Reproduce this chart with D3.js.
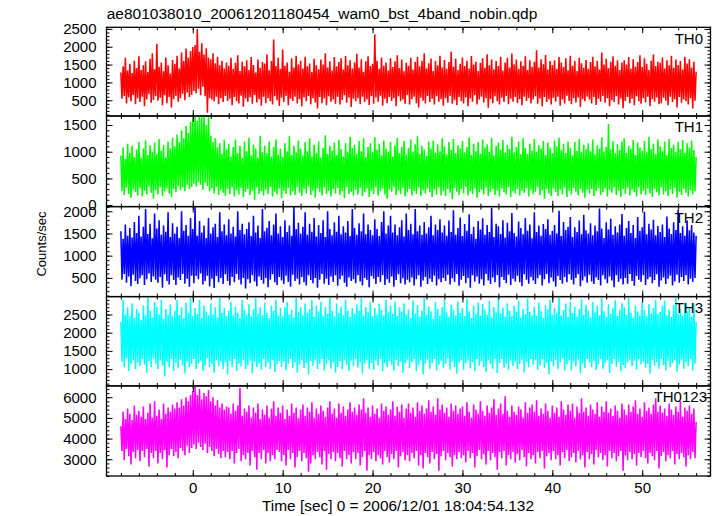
<!DOCTYPE html>
<html><head><meta charset="utf-8">
<script src="https://cdn.jsdelivr.net/npm/d3@7"></script>
<style>body{margin:0;background:#fff} text{font-family:"Liberation Sans",Arial,Helvetica,sans-serif;fill:#000}</style>
</head><body><svg id="c" width="717" height="516"></svg>
<script>
// time bins: start and bin width (sec)
const t0 = -8, dt = 0.125;
const th0 = [
1280,540,1450,620,1690,410,1330,580,1520,470,1260,650,1610,390,1400,560,
1730,450,1350,600,1480,330,1590,520,1290,680,1660,430,1820,510,1370,610,
2080,490,1440,570,1560,360,1310,640,1700,420,1480,590,1250,300,1630,530,
1520,620,1750,460,1390,560,1840,680,1600,500,1950,720,1700,590,1880,650,
1990,760,2050,700,2500,820,1860,640,2100,880,1780,610,1960,150,1700,560,
1650,520,1820,470,1540,600,1720,390,1480,560,1610,450,1390,620,1560,480,
1470,540,1690,360,1380,590,1550,470,1760,410,1320,630,1580,320,1450,550,
1620,460,1350,580,1710,400,1490,650,1280,440,1640,530,1410,350,1570,600,
1530,420,1780,560,1340,470,1600,380,2200,610,1460,500,1690,340,1380,570,
1920,450,1470,620,1560,360,1300,540,1680,480,1420,600,1750,410,1500,530,
1610,330,1390,580,1720,470,1450,620,1530,390,1290,560,1660,440,1480,270,
1370,590,1640,420,1500,550,1820,360,1420,610,1590,460,1330,520,1710,400,
1450,600,1570,380,1680,510,1360,640,1740,430,1480,570,1620,310,1390,540,
1560,470,1800,560,1420,390,1650,600,1300,450,1590,520,1730,370,1460,620,
1520,400,2350,580,1610,460,1380,630,1700,350,1470,540,1560,420,1340,590,
1680,480,1430,560,1590,330,1760,610,1400,470,1640,520,1310,400,1550,650,
1470,380,1690,530,1360,600,1580,420,1720,300,1450,570,1610,490,1820,410,
1390,620,1540,450,1670,540,1320,380,1600,610,1480,460,1750,530,1420,350,
1630,560,1380,430,1570,620,1860,400,1440,500,1660,360,1350,590,1520,470,
1700,410,1460,580,1610,330,1390,550,1740,460,1500,640,1580,380,1320,520,
1550,600,1680,440,1410,560,1790,290,1480,530,1640,420,1370,610,1600,470,
1460,380,1720,570,1330,450,1560,620,1690,390,1420,540,1810,460,1510,590,
1640,420,1380,530,1590,360,1470,600,1730,480,1350,560,1620,410,1440,520,
1580,610,1900,400,1420,550,1650,330,1510,590,1770,450,1360,520,1600,380,
1490,570,1620,460,1380,600,1710,350,1560,520,1430,410,1680,630,1340,480,
1750,390,1470,560,1600,440,1320,580,1690,310,1540,530,1410,470,1630,600,
1380,520,1570,410,1720,590,1450,370,1610,540,1360,460,1840,620,1500,430,
1660,560,1400,330,1580,500,1730,450,1470,610,1620,380,1350,550,1560,280,
1620,480,1500,590,1710,420,1380,540,1650,360,1440,610,1570,470,1760,400,
1430,560,1680,440,1520,600,1350,330,1610,530,1790,460,1460,580,1580,390,
1550,420,1700,570,1390,490,1620,360,1480,600,1750,450,1410,530,1640,300,
1490,590,1600,430,1360,520,1720,470,1530,380,1650,560,1420,270,1580,490,1300];
const th1 = [
930,260,1080,190,870,330,1150,210,980,140,1110,290,900,240,1040,180,
1180,310,890,160,1060,270,1210,200,940,350,1120,230,1000,120,1170,280,
960,200,1240,330,1020,170,1130,260,890,310,1190,220,1070,150,1260,300,
1100,240,1320,350,1180,280,1400,330,1250,260,1480,380,1350,300,1560,340,
1620,400,1700,350,1580,430,1680,380,1640,290,1720,420,1500,360,1660,260,
1300,310,1180,220,1250,340,1080,190,1160,280,960,230,1220,170,1040,300,
1150,210,910,330,1090,160,1230,280,970,200,1110,320,880,150,1190,250,
1010,300,1260,190,930,270,1130,100,1060,330,890,210,1300,260,990,180,
1110,290,970,210,1190,340,910,160,1090,250,1230,200,950,310,1060,130,
900,270,1160,210,1010,320,1290,180,940,260,1110,190,990,340,1210,230,
1060,170,930,300,1180,220,1010,350,1250,190,910,270,1130,140,980,310,
1190,240,890,180,1070,330,1310,210,960,270,1110,160,1020,300,1170,220,
940,320,1220,190,1050,260,910,130,1160,340,990,210,1280,250,1070,180,
1130,290,960,200,1200,320,1010,170,1250,240,900,310,1090,150,1160,270,
990,210,1270,330,1040,180,1150,260,930,310,1210,200,1060,120,1000,290,
1180,250,910,340,1120,190,1260,270,970,210,1090,320,1200,160,950,240,
1070,300,1230,180,1000,260,1140,210,1290,330,960,170,1110,280,1040,220,
920,310,1190,240,1060,150,1210,290,980,200,1140,330,1010,180,1250,260,
1100,170,950,300,1180,230,1030,110,1240,320,970,250,1120,190,1060,300,
1200,220,990,340,1090,180,1270,260,940,210,1150,310,1010,140,1180,240,
960,290,1230,200,1080,330,1140,170,1000,250,1260,300,930,190,1110,270,
1170,160,1040,310,1220,240,980,200,1130,340,1050,150,1280,260,990,220,
1090,300,1190,180,950,270,1250,230,1070,320,960,160,1150,290,1020,210,
1240,250,1000,330,1120,190,1060,280,1200,120,940,300,1170,220,1080,170,
970,310,1210,240,1100,170,1260,290,1030,200,1150,330,980,150,1190,270,
1070,200,930,320,1180,250,1020,180,1240,300,990,230,1130,140,1050,290,
1160,220,1010,300,1230,170,950,260,1120,320,1060,190,1270,240,1000,310,
1090,160,1520,280,1040,230,1200,330,970,190,1140,270,1030,150,1190,300,
1250,210,980,320,1110,180,1060,290,1220,240,940,160,1170,330,1080,200,
1020,270,1200,190,990,310,1280,220,1050,150,1150,300,960,240,1230,180,
1100,330,1010,200,1190,260,940,170,1240,290,1070,210,1130,320,1000,140,
1180,250,1050,190,1220,300,980,230,1160,160,1080,280,1210,200,1030,260,900];
const th2 = [
1550,460,1380,590,1700,390,1450,530,1620,310,1410,570,1760,430,1510,360,
1900,490,1430,560,1650,340,2050,470,1490,600,1720,410,1390,530,1950,460,
1610,390,1800,520,1470,280,1680,580,1540,430,1980,350,1420,560,1730,450,
1500,340,1650,510,1400,450,2000,590,1560,370,1690,480,1450,300,1850,550,
1600,380,2100,540,1450,470,1780,600,1520,350,1680,430,1400,550,1850,310,
1500,480,1640,270,1720,540,1420,400,1980,500,1550,360,1700,580,1460,430,
1820,330,1500,520,1650,400,1430,590,2000,460,1580,350,1720,500,1480,260,
1600,470,1750,380,1440,560,1900,420,1520,310,1680,530,1400,450,2050,370,
1550,500,1630,290,1780,460,1460,580,1700,400,1950,340,1500,520,1660,440,
1420,360,1800,550,1530,410,1680,300,1450,570,2100,430,1600,480,1740,350,
1500,520,1650,400,1980,330,1470,560,1720,450,1540,380,1850,500,1430,280,
1690,460,1510,590,1800,370,1420,480,2000,340,1600,530,1460,410,1750,560,
1540,320,1900,470,1480,550,1660,390,1520,300,1780,510,1440,430,2050,470,
1620,380,1470,560,1730,420,1550,330,1950,500,1480,450,1700,290,1580,540,
1460,480,1820,360,1600,520,1440,410,1760,560,2000,340,1500,470,1680,390,
1900,530,1520,300,1700,450,1460,580,1640,380,1800,490,1430,350,1950,460,
1580,400,1720,510,1480,330,2050,470,1550,560,1680,300,1470,440,1760,520,
1500,360,1640,480,1900,410,1460,550,1700,330,1580,470,1820,400,1520,500,
1680,430,1450,570,1790,350,1530,490,2020,410,1470,590,1620,320,1860,460,
1440,540,1710,380,1560,500,1930,280,1490,560,1650,420,1380,530,1780,370,
1590,470,1840,330,1470,590,1690,440,1530,360,2080,510,1420,400,1720,560,
1660,290,1490,520,1800,450,1410,380,1740,570,1550,340,1960,480,1510,420,
1430,550,1770,400,1620,310,1480,580,1850,460,1560,370,1700,520,1390,440,
1980,360,1530,490,1680,560,1450,330,1710,470,1600,590,1820,380,1470,510,
1560,420,1690,300,1500,540,2010,450,1440,370,1760,520,1580,400,1650,580,
1870,460,1420,350,1640,500,1530,580,1790,310,1480,440,1920,530,1570,390,
1500,570,1730,420,1460,360,1680,510,1550,450,2060,330,1610,560,1400,470,
1750,380,1590,530,1830,440,1470,290,1660,560,1520,410,1700,480,1940,350,
1450,500,1620,370,1780,590,1510,430,1690,320,1400,540,1870,460,1560,410,
1640,560,1990,340,1480,470,1720,520,1590,380,1810,450,1460,580,1670,300,
1530,440,1700,510,1420,360,1880,480,1610,550,1490,330,1750,420,1580,570,
2040,390,1510,520,1660,430,1450,560,1790,350,1570,480,1690,410,1520,500,1450];
const th3 = [
2300,1200,2900,1050,2500,1300,2700,950,2450,1150,2800,1250,2400,1000,2650,1180,
2550,1080,2350,1280,2750,1120,2480,900,2950,1220,2600,1050,2420,1300,2850,1150,
2700,1000,2500,1250,2900,1100,2380,800,2650,1200,2500,1050,2780,1280,2450,950,
2600,1180,2900,1020,2480,1260,2700,1100,2400,880,2820,1200,2550,1050,2950,1150,
2450,1280,2680,1000,2520,1150,2900,1230,2400,950,2750,1100,2580,1300,2480,1050,
2800,1150,2500,900,2700,1250,2420,1080,2950,1200,2550,1000,2680,1180,2460,850,
2600,1220,2850,1050,2480,1280,2720,950,2550,1150,2400,1080,2900,1250,2620,1000,
2500,1100,2780,1230,2450,880,2650,1200,2950,1050,2520,1150,2700,980,2480,1270,
2820,1050,2550,1180,2400,1000,2750,1250,2600,920,2900,1130,2470,1220,2680,1060,
2450,1200,2700,970,2850,1150,2500,1280,2620,1040,2420,1190,2950,900,2560,1120,
2700,1250,2480,1030,2800,1170,2550,850,2650,1220,2900,1090,2430,1260,2750,1000,
2580,1150,2850,1280,2460,960,2700,1130,2520,1240,2950,1020,2600,1180,2450,900,
2800,1060,2550,1210,2720,1000,2480,1260,2900,1120,2600,950,2440,1230,2680,1080,
2520,1270,2780,1040,2600,1190,2950,880,2470,1150,2700,1250,2560,1010,2850,1170,
2450,980,2680,1230,2500,1100,2800,1280,2620,940,2480,1160,2900,1050,2560,1220,
2750,1120,2520,960,2850,1250,2460,1080,2700,1200,2580,900,2800,1150,2500,1260,
2640,1030,2410,1190,2880,1270,2530,940,2760,1110,2440,1240,2610,860,2980,1150,
2490,1260,2720,1010,2580,1170,2390,1280,2840,960,2650,1120,2470,1230,2700,1040,
2910,1140,2560,1290,2430,990,2770,1200,2620,1060,2480,870,2860,1180,2540,1250,
2680,980,2450,1160,2930,1240,2590,1020,2400,1190,2740,940,2510,1280,2820,1090,
2470,1210,2790,1060,2630,920,2500,1250,2870,1130,2420,1010,2700,1270,2560,890,
2960,1170,2530,1280,2690,1040,2440,1150,2810,980,2600,1230,2460,1080,2750,1200,
2580,1000,2880,1140,2420,1260,2660,910,2510,1190,2940,1050,2570,1280,2480,1120,
2720,1240,2460,980,2830,1100,2590,1270,2410,1030,2760,1160,2640,860,2900,1210,
2500,1080,2690,1250,2550,1010,2980,1180,2470,1290,2620,950,2800,1130,2430,1240,
2860,960,2540,1200,2710,1070,2450,1260,2650,890,2920,1150,2490,1030,2770,1280,
2610,1190,2420,1050,2840,1230,2560,970,2730,1120,2480,1270,2950,1010,2590,1160,
2440,1250,2780,900,2520,1140,2670,1280,2890,1060,2460,1200,2630,940,2810,1110,
2700,1020,2490,1180,2960,1260,2550,1080,2410,1230,2750,990,2580,1270,2470,1130,
2850,1200,2620,1040,2450,1150,2790,880,2530,1250,2680,1090,2900,1190,2510,1010,
2570,1280,2740,1110,2880,970,2480,1220,2640,1050,2430,1170,2760,1240,2990,930,
2520,1130,2660,1260,2470,1010,2820,1190,2590,1080,2710,1270,2440,960,2800,1150,2300];
const th0123 = [
4600,3400,5300,2950,4950,3500,5450,3150,5200,2750,4900,3350,5600,3050,5150,3450,
5350,2900,5050,3400,5550,3100,4950,3500,5250,2650,5700,3300,5000,3050,5800,3400,
5100,2800,5400,3300,4950,3000,5700,3450,5200,2600,5500,3200,5300,3500,5650,3150,
5450,3350,5750,3050,5500,3550,5900,3400,5600,3200,6000,3650,5800,3300,6100,3550,
6300,3700,6500,3500,6100,3800,6400,3600,5900,3450,6200,3750,6050,3300,6350,3600,
5800,3400,6000,3150,5600,3500,5850,3250,5500,3050,5700,3400,5400,3100,5550,3350,
5500,3000,5200,3400,5700,2800,5350,3300,5600,3500,6450,2900,5100,3200,5450,3000,
5300,3300,5600,2700,5000,3400,5500,3100,5250,2500,5700,3300,4950,3000,5400,3450,
5150,2800,5600,3300,5000,2900,5450,3200,5800,3000,5100,3450,5500,3350,5250,2900,
5600,3200,4950,2700,5400,3450,5100,3000,5700,3300,5250,2600,5500,3100,4980,3400,
5400,2900,5650,3300,5100,3050,5500,2400,5300,2800,5750,3200,5000,3000,5450,3350,
5200,3100,5600,2750,5350,3400,5050,2500,5500,3250,5800,3000,5200,3350,5450,2900,
5000,3300,5700,3050,5250,2650,5550,3400,5100,3000,5400,3200,5750,2800,5300,3350,
5500,3000,5150,3300,5650,2700,5400,3100,5950,3400,5250,2450,5500,3200,5050,3000,
5600,3350,5200,2900,5450,3200,5000,3050,5700,2750,5350,3400,5550,3100,5150,2850,
5400,3250,5800,3000,5100,3400,5550,2600,5300,3150,5650,3350,5000,2950,5450,3200,
5700,2900,5250,3300,5500,3050,5050,3400,5750,2700,5350,3200,5600,2550,5200,3300,
5450,3100,5850,2800,5300,3350,5550,3000,5150,3250,5950,2450,5400,3150,5650,3400,
5250,2950,5500,3300,5050,3100,5700,2650,5350,3200,5600,3000,5200,3350,5450,3050,
5550,3200,5100,2850,5750,3400,5300,3050,5000,3300,5650,2600,5400,3150,5200,3450,
5800,3000,5350,3250,5100,2750,5600,3400,5250,2950,5500,3300,5900,3100,5150,2500,
5450,3350,5700,3050,5200,3400,6050,2700,5350,3200,5050,3000,5600,3350,5300,2850,
5150,3250,5550,2950,5400,3450,5000,3100,5750,2650,5250,3300,5500,3000,5650,3200,
5300,2800,5850,3350,5100,3050,5450,3400,5200,2550,5700,3150,5350,3300,5000,2950,
5600,3400,5250,3000,5500,3200,5050,2700,5800,3350,5400,3050,5150,3450,5650,2900,
5350,3100,5700,3300,5000,2850,5550,3400,5250,3000,5950,3200,5300,2600,5500,3350,
5100,3000,5650,3250,5400,2750,5200,3450,5750,3100,5050,3300,5550,2950,5300,3200,
5800,2650,5250,3400,5450,3050,5100,3300,5600,2900,5350,3150,5000,3400,5700,2450,
5400,3200,5150,2950,5650,3350,5300,3000,5550,3250,5850,2700,5200,3300,5450,3100,
5050,3400,5750,3050,5350,2800,5500,3300,5200,3150,5650,2950,5950,3400,5300,2550,
5600,3150,5250,3350,5450,2900,5100,3200,5700,3050,5400,3400,5150,2750,5550,3250,
5300,3000,5800,3300,5050,3100,5500,2650,5350,3200,5600,3000,5200,3350,5450,3050,4800];

const seriesData = [th0, th1, th2, th3, th0123];
const seriesNames = ["TH0", "TH1", "TH2", "TH3", "TH0123"];
const seriesColors = ["#ff0000", "#00ff00", "#0000ff", "#00ffff", "#ff00ff"];
const yDomains = [[59, 2545], [-28, 1669], [78, 2105], [538, 2992], [2192, 6546]];
const yMajorTicks = [[500,1000,1500,2000,2500],[0,500,1000,1500],[500,1000,1500,2000],[1000,1500,2000,2500],[3000,4000,5000,6000]];
const yMinorStep = [100, 100, 100, 100, 200];
const xDomain = [-9.6, 57.6];
const xMajorTicks = [0, 10, 20, 30, 40, 50];
const xMinorStep = 2;
const titleText = "ae801038010_20061201180454_wam0_bst_4band_nobin.qdp";
const xLabel = "Time [sec] 0 = 2006/12/01 18:04:54.132";
const yLabel = "Counts/sec";

// layout
const left = 106.5, right = 710.5;
const bounds = [27.3, 116, 206.6, 296.6, 385.9, 476];
const labelDx = [0, 0, 0, 0, 4];

const svg = d3.select("#c");
const x = d3.scaleLinear().domain(xDomain).range([left, right]);
const xMinor = d3.range(-8, 57, xMinorStep).filter(v => v >= xDomain[0] && v <= xDomain[1]);

seriesData.forEach((vals, k) => {
  const top = bounds[k], bot = bounds[k+1];
  const y = d3.scaleLinear().domain(yDomains[k]).range([bot, top]);
  const g = svg.append("g");
  const cid = "clip" + k;
  svg.append("clipPath").attr("id", cid).append("rect")
    .attr("x", left).attr("y", top).attr("width", right-left).attr("height", bot-top);
  const line = d3.line().x((d, i) => x(t0 + i*dt)).y(d => y(d));
  g.append("path").datum(vals).attr("clip-path", `url(#${cid})`)
    .attr("d", line).attr("fill", "none").attr("stroke", seriesColors[k])
    .attr("stroke-width", 1.55).attr("stroke-linejoin", "bevel");

  const yMin = d3.range(Math.ceil(yDomains[k][0]/yMinorStep[k])*yMinorStep[k], yDomains[k][1], yMinorStep[k]);
  const style = a => a.call(s => s.select(".domain").remove())
    .call(s => s.selectAll("line").attr("stroke", "#000").attr("stroke-width", 1))
    .attr("font-size", 15).attr("font-family", null);
  svg.append("g").attr("transform", `translate(${left},0)`)
    .call(d3.axisLeft(y).tickValues(yMin).tickSize(-3).tickFormat("")).call(style);
  svg.append("g").attr("transform", `translate(${left},0)`)
    .call(d3.axisLeft(y).tickValues(yMajorTicks[k]).tickSize(-6).tickPadding(10).tickFormat(d3.format("d"))).call(style);
  svg.append("g").attr("transform", `translate(${right},0)`)
    .call(d3.axisRight(y).tickValues(yMin).tickSize(-3).tickFormat("")).call(style);
  svg.append("g").attr("transform", `translate(${right},0)`)
    .call(d3.axisRight(y).tickValues(yMajorTicks[k]).tickSize(-6).tickFormat("")).call(style);
  svg.append("g").attr("transform", `translate(0,${top})`)
    .call(d3.axisTop(x).tickValues(xMinor).tickSize(-3).tickFormat("")).call(style);
  svg.append("g").attr("transform", `translate(0,${top})`)
    .call(d3.axisTop(x).tickValues(xMajorTicks).tickSize(-6).tickFormat("")).call(style);
  svg.append("g").attr("transform", `translate(0,${bot})`)
    .call(d3.axisBottom(x).tickValues(xMinor).tickSize(-3).tickFormat("")).call(style);
  svg.append("g").attr("transform", `translate(0,${bot})`)
    .call(d3.axisBottom(x).tickValues(xMajorTicks).tickSize(-6).tickPadding(6)
      .tickFormat(k === 4 ? d3.format("d") : "")).call(style);

  svg.append("rect").attr("x", left).attr("y", top).attr("width", right-left).attr("height", bot-top)
    .attr("fill", "none").attr("stroke", "#000").attr("stroke-width", 1.3);

  svg.append("text").attr("x", 703 + labelDx[k]).attr("y", top + 16.3)
    .attr("text-anchor", "end").attr("font-size", 15).text(seriesNames[k]);
});

svg.append("text").attr("x", 106.7).attr("y", 19).attr("font-size", 15.5).text(titleText);
svg.append("text").attr("x", 398).attr("y", 511).attr("text-anchor", "middle").attr("font-size", 15.4).text(xLabel);
svg.append("text").attr("transform", "translate(45.5,244) rotate(-90)").attr("text-anchor", "middle")
  .attr("font-size", 13).text(yLabel);
</script></body></html>
